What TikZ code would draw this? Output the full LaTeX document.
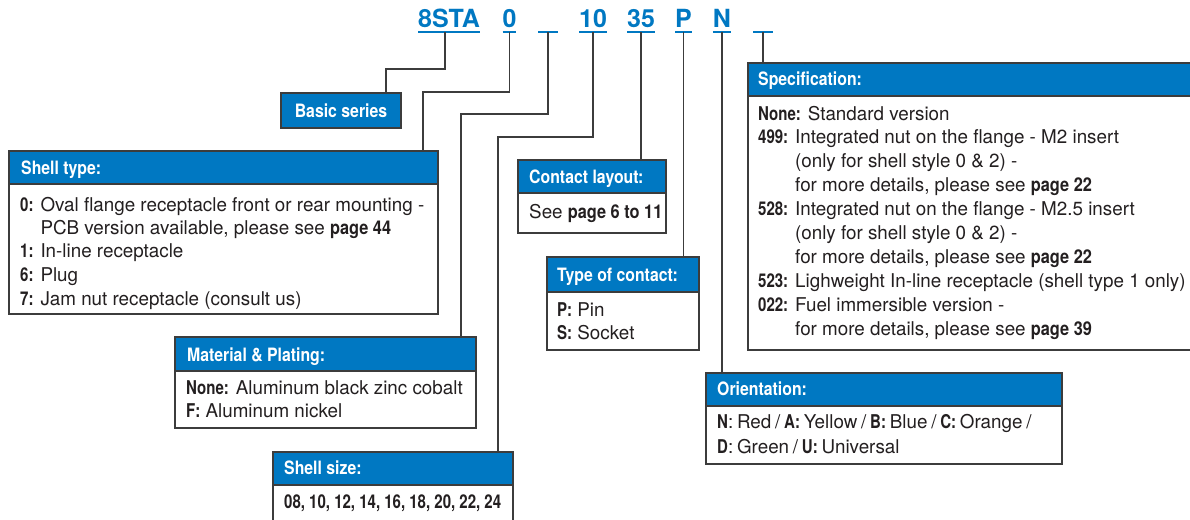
\documentclass[tikz,border=0pt]{standalone}
\usepackage{fontspec}
\setmainfont{TeX Gyre Heros}[UprightFeatures={FakeStretch=0.99},BoldFeatures={FakeStretch=0.86}]
\newfontfamily\codefont{TeX Gyre Heros}
\newfontfamily\lblfont{TeX Gyre Heros}[FakeStretch=0.79]
\newcommand\keylbl[1]{{\lblfont\bfseries #1}}
\definecolor{cblue}{RGB}{0,120,194}
\definecolor{linegray}{RGB}{60,60,60}
\definecolor{textgray}{RGB}{35,31,32}
\tikzset{
  conn/.style={draw=linegray, line width=1.2pt},
  border/.style={draw=linegray, line width=1.3pt},
  codetxt/.style={text=cblue, font=\codefont\bfseries\fontsize{25}{30}\selectfont, inner sep=0pt, outer sep=0pt, text depth=4pt, anchor=base},
  uline/.style={draw=cblue, line width=1.5pt},
  boxshape/.style={rectangle, anchor=north west, inner sep=0pt, outer sep=0pt},
  hdr/.style={text=white, font=\bfseries\fontsize{18.4}{20}\selectfont, anchor=base west, inner sep=0pt},
  body/.style={text=textgray, font=\fontsize{19}{24}\selectfont, anchor=base west, inner sep=0pt},
}
\begin{document}
\begin{tikzpicture}[x=1pt,y=-1pt]
\clip (0,0) rectangle (1190,519);
\fill[white] (0,0) rectangle (1190,519);

% code line
\node[codetxt] (c8) at (449,28) {8STA};
\node[codetxt] (c0) at (509.5,28) {0};
\node[codetxt, minimum width=20pt] (cm) at (548,28) {};
\node[codetxt] (c10) at (593,28) {10};
\node[codetxt] (c35) at (641,28) {35};
\node[codetxt] (cp) at (683.5,28) {P};
\node[codetxt] (cn) at (722,28) {N};
\node[codetxt, minimum width=20pt] (cs) at (763,28) {};
\foreach \n in {c8,c0,cm,c10,c35,cp,cn,cs}
  \draw[uline] (\n.south west) -- (\n.south east);

% Basic series
\node[boxshape, minimum width=120pt, minimum height=35pt] (basic) at (281,93) {};
\fill[cblue] (basic.north west) rectangle (basic.south east);
\draw[border] (basic.north west) rectangle (basic.south east);
\node[hdr, anchor=base] (basict) at (341,117) {Basic series};

% Shell type
\node[boxshape, minimum width=429pt, minimum height=163pt] (shell) at (9,151) {};
\fill[cblue] (shell.north west) rectangle ([yshift=-33pt]shell.north east);
\draw[border] (shell.north west) rectangle (shell.south east)
  ([yshift=-33pt]shell.north west) -- ([yshift=-33pt]shell.north east);
\node[hdr] (shellh) at (21,174) {Shell type:};
\node[body] (shell1) at (20,211) {\keylbl{0:} Oval flange receptacle front or rear mounting -};
\node[body] (shell2) at (20,234) {\hphantom{\keylbl{0:} }PCB version available, please see \textbf{page 44}};
\node[body] (shell3) at (20,257) {\keylbl{1:} In-line receptacle};
\node[body] (shell4) at (20,281) {\keylbl{6:} Plug};
\node[body] (shell5) at (20,305) {\keylbl{7:} Jam nut receptacle (consult us)};

% Material & Plating
\node[boxshape, minimum width=301pt, minimum height=91pt] (mat) at (175,337) {};
\fill[cblue] (mat.north west) rectangle ([yshift=-34pt]mat.north east);
\draw[border] (mat.north west) rectangle (mat.south east)
  ([yshift=-34pt]mat.north west) -- ([yshift=-34pt]mat.north east);
\node[hdr] (math) at (187,361) {Material \& Plating:};
\node[body] (mat1) at (186,394) {\keylbl{None:} Aluminum black zinc cobalt};
\node[body] (mat2) at (186,417) {\keylbl{F:} Aluminum nickel};

% Shell size
\node[boxshape, minimum width=240pt, minimum height=90pt] (size) at (273,452) {};
\fill[cblue] (size.north west) rectangle ([yshift=-33pt]size.north east);
\draw[border] (size.north west) rectangle (size.south east)
  ([yshift=-33pt]size.north west) -- ([yshift=-33pt]size.north east);
\node[hdr] (sizeh) at (284,474) {Shell size:};
\node[body] (size1) at (284,508) {\keylbl{08, 10, 12, 14, 16, 18, 20, 22, 24}};

% Contact layout
\node[boxshape, minimum width=148pt, minimum height=73pt] (lay) at (518,160) {};
\fill[cblue] (lay.north west) rectangle ([yshift=-33pt]lay.north east);
\draw[border] (lay.north west) rectangle (lay.south east)
  ([yshift=-33pt]lay.north west) -- ([yshift=-33pt]lay.north east);
\node[hdr] (layh) at (529,183) {Contact layout:};
\node[body] (lay1) at (529,218) {See \textbf{page 6 to 11}};

% Type of contact
\node[boxshape, minimum width=152pt, minimum height=93pt] (typ) at (547,257) {};
\fill[cblue] (typ.north west) rectangle ([yshift=-35pt]typ.north east);
\draw[border] (typ.north west) rectangle (typ.south east)
  ([yshift=-35pt]typ.north west) -- ([yshift=-35pt]typ.north east);
\node[hdr] (typh) at (557,281) {Type of contact:};
\node[body] (typ1) at (557,316) {\keylbl{P:} Pin};
\node[body] (typ2) at (557,339) {\keylbl{S:} Socket};

% Orientation
\node[boxshape, minimum width=356pt, minimum height=91pt] (ori) at (706,373) {};
\fill[cblue] (ori.north west) rectangle ([yshift=-33pt]ori.north east);
\draw[border] (ori.north west) rectangle (ori.south east)
  ([yshift=-33pt]ori.north west) -- ([yshift=-33pt]ori.north east);
\node[hdr] (orih) at (717,395) {Orientation:};
\node[body] (ori1) at (717,428) {\spaceskip=0.2em\relax\keylbl{N}: Red / \keylbl{A:} Yellow / \keylbl{B:} Blue / \keylbl{C:} Orange /};
\node[body] (ori2) at (717,453) {\spaceskip=0.2em\relax\keylbl{D}: Green / \keylbl{U:} Universal};

% Specification
\node[boxshape, minimum width=460pt, minimum height=287pt] (spec) at (748,63) {};
\fill[cblue] (spec.north west) rectangle ([yshift=-33pt]spec.north east);
\draw[border] (spec.north west) rectangle (spec.south east)
  ([yshift=-33pt]spec.north west) -- ([yshift=-33pt]spec.north east);
\node[hdr] (spech) at (758,85) {Specification:};
\node[body] (spec1) at (758,120) {\keylbl{None:} Standard version};
\node[body] (spec2) at (758,143) {\keylbl{499:} Integrated nut on the flange - M2 insert};
\node[body] (spec3) at (758,167) {\hphantom{\keylbl{499:} }(only for shell style 0 \& 2) -};
\node[body] (spec4) at (758,191) {\hphantom{\keylbl{499:} }for more details, please see \textbf{page 22}};
\node[body] (spec5) at (758,215) {\keylbl{528:} Integrated nut on the flange - M2.5 insert};
\node[body] (spec6) at (758,239) {\hphantom{\keylbl{528:} }(only for shell style 0 \& 2) -};
\node[body] (spec7) at (758,263) {\hphantom{\keylbl{528:} }for more details, please see \textbf{page 22}};
\node[body] (spec8) at (758,287) {\keylbl{523:} Lighweight In-line receptacle (shell type 1 only)};
\node[body] (spec9) at (758,311) {\keylbl{022:} Fuel immersible version -};
\node[body] (spec10) at (758,335) {\hphantom{\keylbl{022:} }for more details, please see \textbf{page 39}};

% connectors
\draw[conn] ([xshift=-4pt]c8.south) -- ([xshift=-4pt]c8.south |- 0,69) -| ([xshift=-15pt]basic.north east);
\draw[conn] (c0.south) -- (c0.south |- 0,92) -| ([xshift=-15pt]shell.north east);
\draw[conn] (cm.south) -- (cm.south |- 0,114) -| ([xshift=-15pt]mat.north east);
\draw[conn] (c10.south) -- (c10.south |- 0,137) -| ([xshift=-15pt]size.north east);
\draw[conn] (c35.south) -- (c35.south |- lay.north);
\draw[conn] (cp.south) -- (cp.south |- typ.north);
\draw[conn] (cn.south) -- (cn.south |- ori.north);
\draw[conn] (cs.south) -- (cs.south |- spec.north);
\end{tikzpicture}
\end{document}
